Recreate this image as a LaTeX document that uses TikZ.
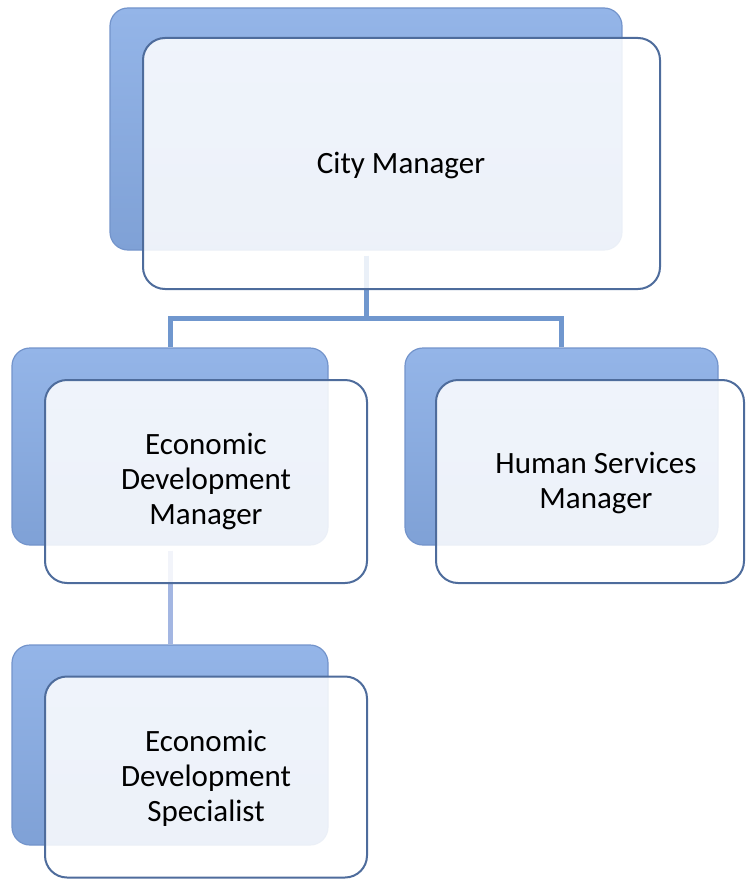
\documentclass[tikz,border=0pt]{standalone}
\usepackage{fontspec}
\setmainfont{Carlito}
\usetikzlibrary{calc}
\definecolor{backtop}{HTML}{94B5E8}
\definecolor{backbot}{HTML}{7FA1D6}
\definecolor{backedge}{HTML}{7394CB}
\definecolor{frontline}{HTML}{4E6C9C}
\definecolor{connA}{HTML}{7097CE}
\definecolor{connB}{HTML}{A3B6E2}
\tikzset{
  backbox/.style={rectangle, rounded corners=18pt, top color=backtop, bottom color=backbot, draw=backedge, line width=1.2pt, inner sep=0pt},
  frontbox/.style={rectangle, rounded corners=22pt, fill=white, fill opacity=0.86, draw=frontline, draw opacity=1, line width=2pt, inner sep=0pt},
  lbl/.style={align=center, font=\fontsize{31}{35}\selectfont, text=black},
  conn/.style={draw=connA, line width=5pt},
  connlight/.style={draw=connB, line width=5pt}
}
\begin{document}
\begin{tikzpicture}[x=1pt,y=-1pt]
\useasboundingbox (0,0) rectangle (746,880);
% back boxes
\node[backbox, minimum width=512pt, minimum height=242pt] (cmb) at (366,129) {};
\node[backbox, minimum width=316pt, minimum height=197pt] (edb) at (170,446.5) {};
\node[backbox, minimum width=313pt, minimum height=197pt] (hsb) at (561.5,446.5) {};
\node[backbox, minimum width=316pt, minimum height=200pt] (spb) at (170,745) {};
% connectors
\coordinate (cmj) at ($(cmb.south)+(0,68)$);
\draw[conn] ($(cmb.south)+(0,5)$) -- (cmj);
\draw[conn] (cmj) -| (edb.north);
\draw[conn] (cmj) -| (hsb.north);
\draw[connlight] ($(edb.south)+(0,5)$) -- (spb.north);
% front boxes
\node[frontbox, minimum width=517pt, minimum height=251pt] (cmf) at (401.5,163.5) {};
\node[frontbox, minimum width=322pt, minimum height=203pt] (edf) at (206,481.5) {};
\node[frontbox, minimum width=308pt, minimum height=203pt] (hsf) at (590,481.5) {};
\node[frontbox, minimum width=322pt, minimum height=201pt] (spf) at (206,777) {};
% labels
\node[lbl] (cmt) at (401,165) {City Manager};
\node[lbl] (edt) at (206,481) {Economic\\Development\\Manager};
\node[lbl] (hst) at (596,483) {Human Services\\Manager};
\node[lbl] (spt) at (206,778) {Economic\\Development\\Specialist};
\end{tikzpicture}
\end{document}
